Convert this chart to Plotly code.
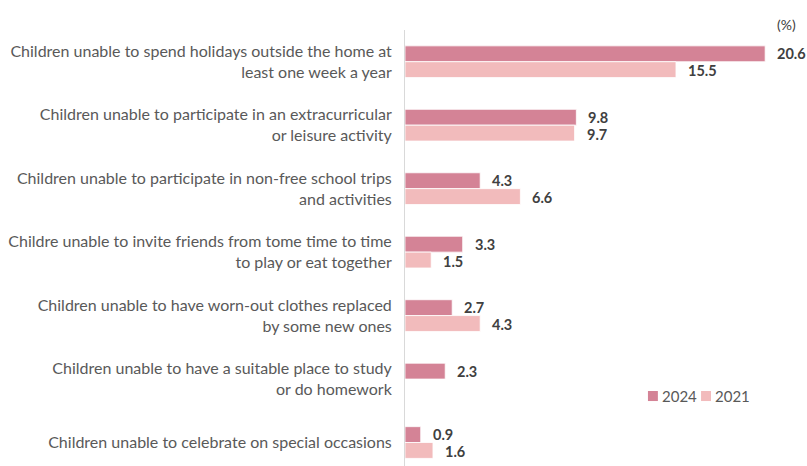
import plotly.graph_objects as go

categories = [
    "Children unable to spend holidays outside the home at<br>least one week a year",
    "Children unable to participate in an extracurricular<br>or leisure activity",
    "Children unable to participate in non-free school trips<br>and activities",
    "Childre unable to invite friends from tome time to time<br>to play or eat together",
    "Children unable to have worn-out clothes replaced<br>by some new ones",
    "Children unable to have a suitable place to study<br>or do homework",
    "Children unable to celebrate on special occasions",
]
series_names = ["2024", "2021"]
values_2024 = [20.6, 9.8, 4.3, 3.3, 2.7, 2.3, 0.9]
values_2021 = [15.5, 9.7, 6.6, 1.5, 4.3, None, 1.6]

COL_2024 = "#D48396"
COL_2021 = "#F2BBBC"
FONT = "Lato, 'Open Sans', sans-serif"

pos = list(range(len(categories)))

fig = go.Figure()
fig.add_trace(go.Bar(
    name=series_names[0], y=pos, x=values_2024, orientation="h",
    marker=dict(color=COL_2024, line=dict(color="white", width=0.8)),
))
fig.add_trace(go.Bar(
    name=series_names[1], y=pos, x=values_2021, orientation="h",
    marker=dict(color=COL_2021, line=dict(color="white", width=0.8)),
))

# value labels just past the end of each bar
half = 0.25
for i, (a, b) in enumerate(zip(values_2024, values_2021)):
    for v, off in ((a, -half / 2), (b, half / 2 + 0.02)):
        if v is None:
            continue
        fig.add_annotation(
            x=v, y=i + off, text=f"<b>{v:.1f}</b>", showarrow=False,
            xanchor="left", yanchor="middle", xshift=10,
            font=dict(family=FONT, size=14.5, color="#404040"),
        )

fig.add_annotation(
    x=1, y=1, xref="paper", yref="paper", text="(%)", showarrow=False,
    xanchor="right", yanchor="middle", xshift=11, yshift=6,
    font=dict(family=FONT, size=14, color="#404040"),
)

# compact legend: colour swatch followed by the series name
legend_items = [(series_names[0], COL_2024, 0.636), (series_names[1], COL_2021, 0.775)]
for name, col, x0 in legend_items:
    fig.add_shape(type="rect", xref="paper", yref="paper",
                  x0=x0, x1=x0 + 0.026, y0=0.149, y1=0.172,
                  fillcolor=col, line=dict(width=0))
    fig.add_annotation(x=x0 + 0.026, y=0.1605, xref="paper", yref="paper",
                       text=name, showarrow=False, xanchor="left", yanchor="middle",
                       xshift=2, font=dict(family=FONT, size=15, color="#595959"))

fig.update_layout(
    width=807, height=466,
    margin=dict(l=405, r=20, t=30, b=0),
    paper_bgcolor="white", plot_bgcolor="white",
    barmode="group", bargap=0.5, bargroupgap=0,
    font=dict(family=FONT, size=16, color="#595959"),
    showlegend=False,
    xaxis=dict(range=[0, 21.85], showgrid=False, showticklabels=False,
               zeroline=False, showline=False, fixedrange=True),
    yaxis=dict(range=[6.37, -0.5], tickvals=pos, ticktext=categories,
               showgrid=False, zeroline=False, showline=True,
               linecolor="#D9D9D9", linewidth=1, ticks="", ticklabelstandoff=9,
               tickfont=dict(family=FONT, size=16, color="#595959")),
)

fig.write_html("out.html")
